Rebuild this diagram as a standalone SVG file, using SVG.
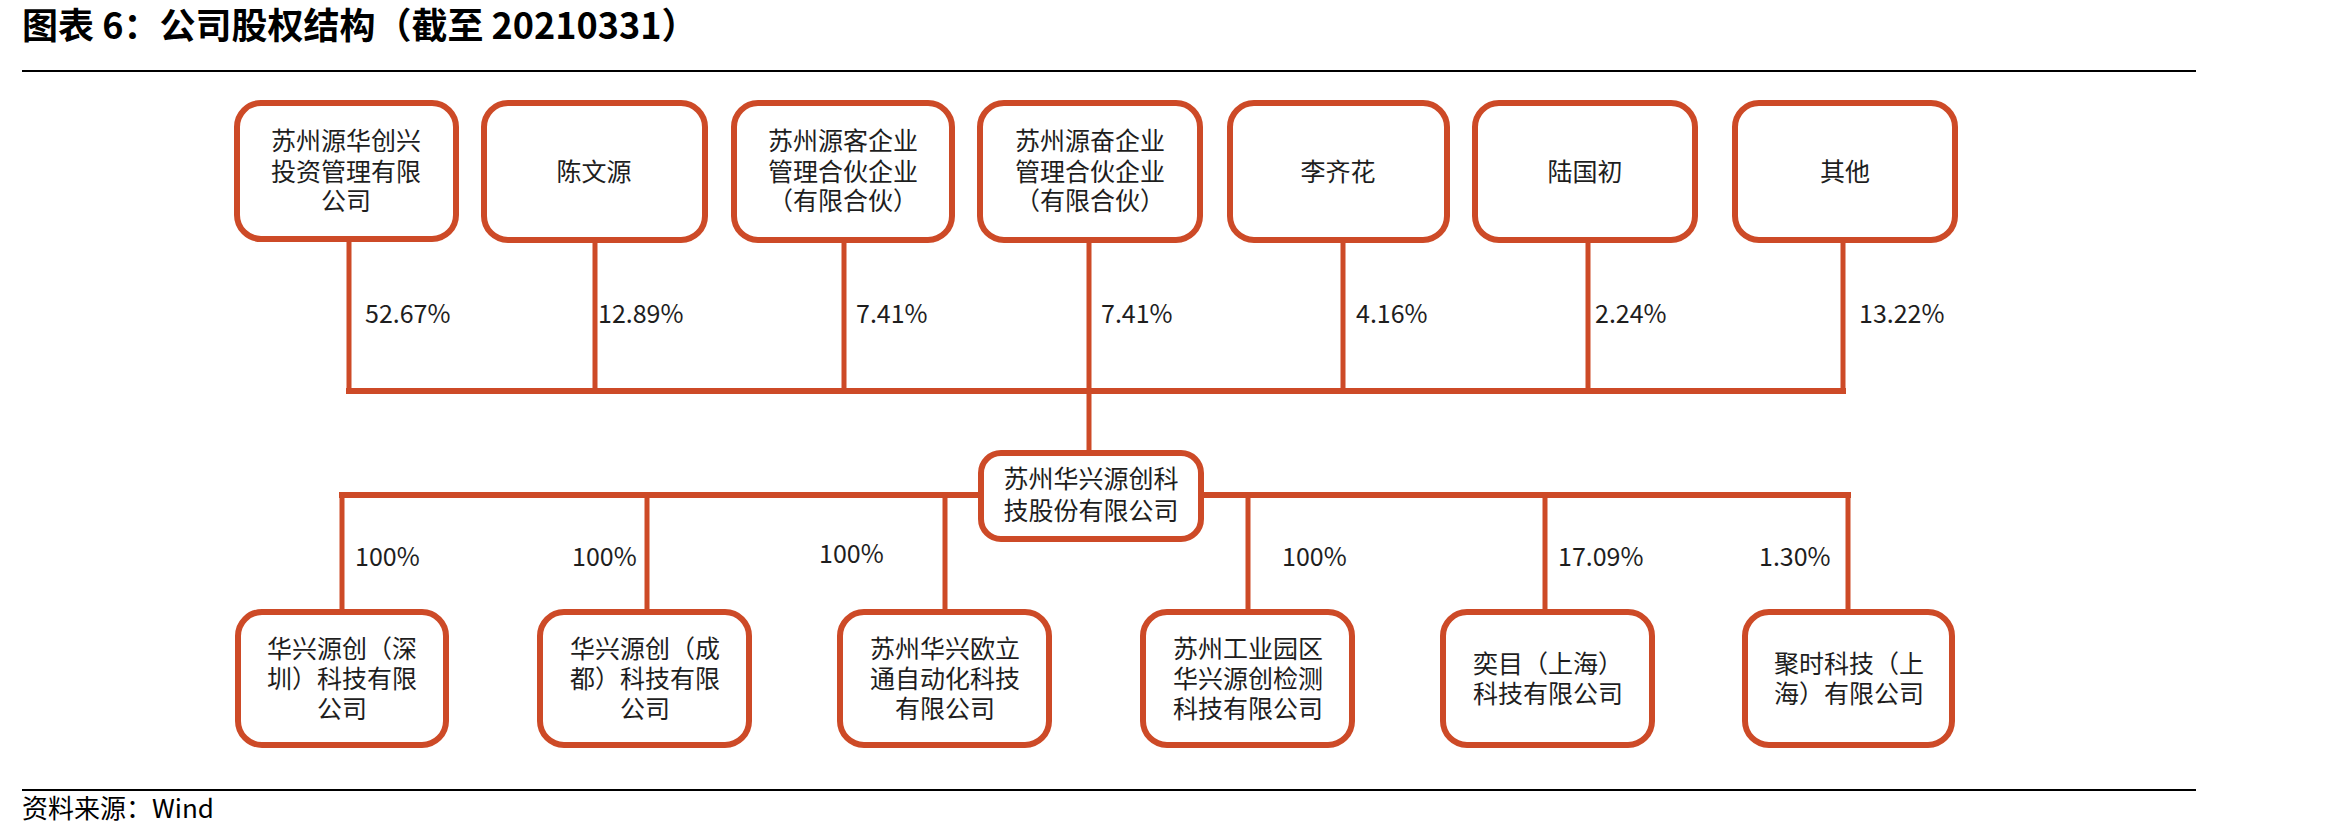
<svg xmlns="http://www.w3.org/2000/svg" width="2327" height="839" viewBox="0 0 2327 839">
<style>
.box{fill:#fff;stroke:#CD4A27;stroke-width:6}
.ln{stroke:#CD4A27;stroke-width:5;fill:none;stroke-linecap:square}
.bus{stroke:#CD4A27;stroke-width:6;fill:none;stroke-linecap:square}
.t{font-family:"Noto Sans CJK SC","Noto Sans",sans-serif;font-size:25px;fill:#1e1e1e;text-anchor:middle}
.p{font-family:"Noto Sans CJK SC","Noto Sans",sans-serif;font-size:25px;fill:#1e1e1e}
.title{font-family:"Noto Sans CJK SC",sans-serif;font-size:36px;font-weight:bold;fill:#000}
.src{font-family:"Noto Sans CJK SC",sans-serif;font-size:26px;fill:#000}
</style>
<rect width="2327" height="839" fill="#fff"/>
<text class="title" x="22" y="39">图表 6：公司股权结构（截至 20210331）</text>
<line x1="22" y1="71" x2="2196" y2="71" stroke="#000" stroke-width="2"/>
<line x1="22" y1="790" x2="2196" y2="790" stroke="#000" stroke-width="2"/>
<text class="src" x="22" y="818">资料来源：Wind</text>

<g id="connectors">
<path class="ln" d="M349 242V391M595 242V391M844 242V391M1089 242V391M1343 242V391M1588 242V391M1843 242V391"/>
<path class="bus" d="M349 391H1843"/>
<path class="ln" d="M1089 391V450"/>
<path class="bus" d="M342 495H1848"/>
<path class="ln" d="M342 495V609M647 495V609M945 495V609M1248 495V609M1545 495V609M1848 495V609"/>
<g class="p">
<text x="365" y="323">52.67%</text>
<text x="598" y="323">12.89%</text>
<text x="856" y="323">7.41%</text>
<text x="1101" y="323">7.41%</text>
<text x="1356" y="323">4.16%</text>
<text x="1595" y="323">2.24%</text>
<text x="1859" y="323">13.22%</text>
<text x="355" y="566">100%</text>
<text x="572" y="566">100%</text>
<text x="819" y="563">100%</text>
<text x="1282" y="566">100%</text>
<text x="1558" y="566">17.09%</text>
<text x="1759" y="566">1.30%</text>
</g>
</g>

<g id="s1"><rect class="box" x="237" y="103" width="219" height="136" rx="24"/>
<text class="t" x="346" y="150">苏州源华创兴</text><text class="t" x="346" y="181">投资管理有限</text><text class="t" x="346" y="210">公司</text></g>
<g id="s2"><rect class="box" x="484" y="103" width="221" height="137" rx="24"/>
<text class="t" x="594" y="181">陈文源</text></g>
<g id="s3"><rect class="box" x="734" y="103" width="218" height="137" rx="24"/>
<text class="t" x="843" y="150">苏州源客企业</text><text class="t" x="843" y="181">管理合伙企业</text><text class="t" x="843" y="210">（有限合伙）</text></g>
<g id="s4"><rect class="box" x="980" y="103" width="220" height="137" rx="24"/>
<text class="t" x="1090" y="150">苏州源奋企业</text><text class="t" x="1090" y="181">管理合伙企业</text><text class="t" x="1090" y="210">（有限合伙）</text></g>
<g id="s5"><rect class="box" x="1230" y="103" width="217" height="137" rx="24"/>
<text class="t" x="1338" y="181">李齐花</text></g>
<g id="s6"><rect class="box" x="1475" y="103" width="220" height="137" rx="24"/>
<text class="t" x="1585" y="181">陆国初</text></g>
<g id="s7"><rect class="box" x="1735" y="103" width="220" height="137" rx="24"/>
<text class="t" x="1845" y="181">其他</text></g>

<g id="center"><rect class="box" x="981" y="453" width="220" height="86" rx="20"/>
<text class="t" x="1091" y="488">苏州华兴源创科</text><text class="t" x="1091" y="520">技股份有限公司</text></g>

<g id="c1"><rect class="box" x="238" y="612" width="208" height="133" rx="24"/>
<text class="t" x="342" y="658">华兴源创（深</text><text class="t" x="342" y="688">圳）科技有限</text><text class="t" x="342" y="718">公司</text></g>
<g id="c2"><rect class="box" x="540" y="612" width="209" height="133" rx="24"/>
<text class="t" x="645" y="658">华兴源创（成</text><text class="t" x="645" y="688">都）科技有限</text><text class="t" x="645" y="718">公司</text></g>
<g id="c3"><rect class="box" x="840" y="612" width="209" height="133" rx="24"/>
<text class="t" x="945" y="658">苏州华兴欧立</text><text class="t" x="945" y="688">通自动化科技</text><text class="t" x="945" y="718">有限公司</text></g>
<g id="c4"><rect class="box" x="1143" y="612" width="209" height="133" rx="24"/>
<text class="t" x="1248" y="658">苏州工业园区</text><text class="t" x="1248" y="688">华兴源创检测</text><text class="t" x="1248" y="718">科技有限公司</text></g>
<g id="c5"><rect class="box" x="1443" y="612" width="209" height="133" rx="24"/>
<text class="t" x="1548" y="673">奕目（上海）</text><text class="t" x="1548" y="703">科技有限公司</text></g>
<g id="c6"><rect class="box" x="1745" y="612" width="207" height="133" rx="24"/>
<text class="t" x="1849" y="673">聚时科技（上</text><text class="t" x="1849" y="703">海）有限公司</text></g>
</svg>
